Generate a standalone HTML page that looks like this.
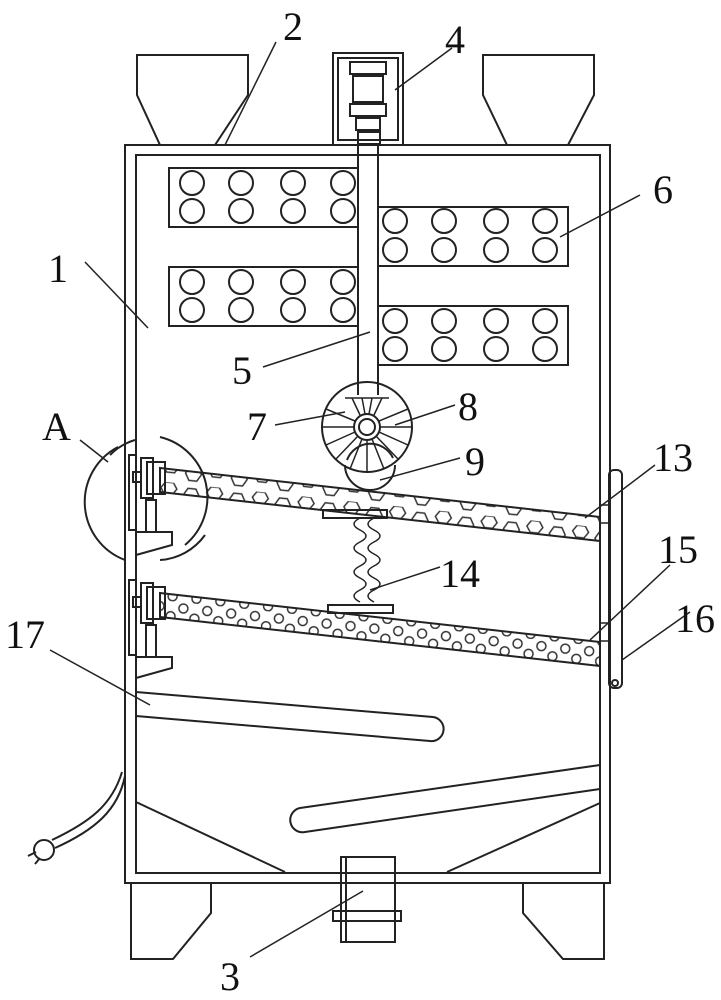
<!DOCTYPE html>
<html><head><meta charset="utf-8"><style>
html,body{margin:0;padding:0;background:#fff}
svg{display:block}
text{font-family:"Liberation Serif",serif;font-size:40px;fill:#111}
</style></head><body>
<svg width="721" height="1000" viewBox="0 0 721 1000" xmlns="http://www.w3.org/2000/svg">
<defs>
<pattern id="hex" width="46" height="22" patternUnits="userSpaceOnUse" patternTransform="rotate(6)">
<polygon points="8,4 16,4 20,11 16,18 8,18 4,11" fill="none" stroke="#333" stroke-width="1.5"/>
<polygon points="31,0 39,0 43,6 39,12 31,12 27,6" fill="none" stroke="#333" stroke-width="1.5"/>
</pattern>
<pattern id="hex2" width="24" height="20" patternUnits="userSpaceOnUse" patternTransform="rotate(6)">
<circle cx="6" cy="6" r="4.5" fill="none" stroke="#333" stroke-width="1.5"/>
<circle cx="18" cy="15" r="4.5" fill="none" stroke="#333" stroke-width="1.5"/>
</pattern>
</defs>
<g fill="none" stroke="#222" stroke-width="2">
<rect x="125" y="145" width="485" height="738"/>
<rect x="136" y="155" width="464" height="718"/>
<path d="M137,55 H248 V95 L215,145 H160 L137,95 Z"/>
<path d="M483,55 H594 V95 L568,145 H507 L483,95 Z"/>
<rect x="333" y="53" width="70" height="92"/>
<rect x="338" y="58" width="60" height="82"/>
<rect x="350" y="62" width="36" height="12"/>
<rect x="353" y="76" width="30" height="26"/>
<rect x="350" y="104" width="36" height="12"/>
<rect x="356" y="118" width="24" height="12"/>
<rect x="358" y="132" width="22" height="12"/>
<line x1="358" y1="145" x2="358" y2="395"/>
<line x1="378" y1="145" x2="378" y2="395"/>
<rect x="169" y="168" width="189" height="59"/>
<rect x="169" y="267" width="189" height="59"/>
<rect x="378" y="207" width="190" height="59"/>
<rect x="378" y="306" width="190" height="59"/>
<g>
<circle cx="192" cy="183" r="12"/><circle cx="241" cy="183" r="12"/><circle cx="293" cy="183" r="12"/><circle cx="343" cy="183" r="12"/>
<circle cx="192" cy="211" r="12"/><circle cx="241" cy="211" r="12"/><circle cx="293" cy="211" r="12"/><circle cx="343" cy="211" r="12"/>
<circle cx="192" cy="282" r="12"/><circle cx="241" cy="282" r="12"/><circle cx="293" cy="282" r="12"/><circle cx="343" cy="282" r="12"/>
<circle cx="192" cy="310" r="12"/><circle cx="241" cy="310" r="12"/><circle cx="293" cy="310" r="12"/><circle cx="343" cy="310" r="12"/>
<circle cx="395" cy="221" r="12"/><circle cx="444" cy="221" r="12"/><circle cx="496" cy="221" r="12"/><circle cx="545" cy="221" r="12"/>
<circle cx="395" cy="250" r="12"/><circle cx="444" cy="250" r="12"/><circle cx="496" cy="250" r="12"/><circle cx="545" cy="250" r="12"/>
<circle cx="395" cy="321" r="12"/><circle cx="444" cy="321" r="12"/><circle cx="496" cy="321" r="12"/><circle cx="545" cy="321" r="12"/>
<circle cx="395" cy="349" r="12"/><circle cx="444" cy="349" r="12"/><circle cx="496" cy="349" r="12"/><circle cx="545" cy="349" r="12"/>
</g>
<circle cx="367" cy="427" r="45"/>
<circle cx="367" cy="427" r="13"/><circle cx="367" cy="427" r="8"/>
<g stroke-width="1.5">
<line x1="380" y1="427" x2="412" y2="427"/><line x1="354" y1="427" x2="322" y2="427"/>
<line x1="367" y1="440" x2="367" y2="472"/>
<line x1="376" y1="436" x2="398" y2="459"/><line x1="358" y1="436" x2="336" y2="459"/>
<line x1="372" y1="439" x2="384" y2="469"/><line x1="362" y1="439" x2="350" y2="469"/>
<line x1="379" y1="432" x2="408" y2="445"/><line x1="355" y1="432" x2="326" y2="445"/>
<line x1="379" y1="421" x2="408" y2="409"/><line x1="355" y1="421" x2="326" y2="409"/>
<line x1="345" y1="398" x2="389" y2="398"/>
<line x1="362" y1="398" x2="365" y2="414"/><line x1="372" y1="398" x2="369" y2="414"/>
<line x1="352" y1="398" x2="360" y2="415"/><line x1="382" y1="398" x2="374" y2="415"/>
</g>
<path d="M345,465 A22,22 0 0 0 395,465" />
<path d="M347,460 A25,25 0 0 1 393,458"/>
<path d="M160,468 L600,517 L600,541 L160,492 Z" fill="url(#hex)"/>
<path d="M160,593 L600,642 L600,666 L160,617 Z" fill="url(#hex2)"/>
<rect x="323" y="510" width="64" height="8"/>
<rect x="328" y="605" width="65" height="8"/>
<path d="M360,518 q-12,6 0,12 q12,6 0,12 q-12,6 0,12 q12,6 0,12 q-12,6 0,12 q12,6 0,12 q-12,6 0,12 " stroke-width="1.5"/>
<path d="M374,518 q-12,6 0,12 q12,6 0,12 q-12,6 0,12 q12,6 0,12 q-12,6 0,12 q12,6 0,12 q-12,6 0,12 " stroke-width="1.5"/>
<rect x="129" y="455" width="7" height="75"/>
<rect x="141" y="458" width="12" height="40"/><rect x="147" y="462" width="18" height="32"/>
<rect x="133" y="472" width="8" height="10"/>
<rect x="146" y="500" width="10" height="32"/>
<path d="M136,532 L172,532 L172,545 L136,555"/>
<rect x="129" y="580" width="7" height="75"/>
<rect x="141" y="583" width="12" height="40"/><rect x="147" y="587" width="18" height="32"/>
<rect x="133" y="597" width="8" height="10"/>
<rect x="146" y="625" width="10" height="32"/>
<path d="M136,657 L172,657 L172,668 L136,678"/>
<path d="M118,447 A62,62 0 0 0 125,560"/>
<path d="M160,437 A62,62 0 0 1 185,545" />
<path d="M110,455 A58,58 0 0 1 135,440"/>
<path d="M160,560 A60,60 0 0 0 205,535"/>
<rect x="609" y="470" width="13" height="218" rx="5"/>
<circle cx="615" cy="683" r="3"/>
<rect x="600" y="505" width="9" height="18" stroke-width="1.5"/>
<rect x="600" y="623" width="9" height="18" stroke-width="1.5"/>
<path d="M136,692 L433,717 A12,12 0 0 1 430,741 L136,716"/>
<path d="M600,765 L300,808 A12,12 0 0 0 305,832 L600,789"/>
<line x1="136" y1="802" x2="285" y2="872"/>
<line x1="600" y1="803" x2="447" y2="872"/>
<rect x="341" y="857" width="54" height="85"/>
<line x1="346" y1="857" x2="346" y2="942"/>
<rect x="333" y="911" width="68" height="10"/>
<path d="M131,883 V959 H173 L211,913 V883"/>
<path d="M604,883 V959 H563 L523,913 V883"/>
<path d="M125,776 C118,810 95,830 55,848"/>
<path d="M122,772 C112,805 90,822 52,840"/>
<circle cx="44" cy="850" r="10"/>
<path d="M36,852 l-8,4 M40,858 l-5,6"/>
<g stroke-width="1.5">
<line x1="85" y1="262" x2="148" y2="328"/>
<line x1="276" y1="42" x2="225" y2="145"/>
<line x1="452" y1="48" x2="395" y2="90"/>
<line x1="263" y1="367" x2="370" y2="332"/>
<line x1="640" y1="195" x2="560" y2="237"/>
<line x1="275" y1="425" x2="345" y2="412"/>
<line x1="455" y1="405" x2="395" y2="425"/>
<line x1="460" y1="458" x2="380" y2="480"/>
<line x1="655" y1="465" x2="585" y2="518"/>
<line x1="440" y1="567" x2="370" y2="590"/>
<line x1="670" y1="565" x2="590" y2="640"/>
<line x1="690" y1="612" x2="622" y2="660"/>
<line x1="50" y1="650" x2="150" y2="705"/>
<line x1="80" y1="440" x2="108" y2="462"/>
<line x1="250" y1="957" x2="363" y2="891"/>
</g>
</g>
<text x="48" y="282">1</text>
<text x="283" y="40">2</text>
<text x="220" y="990">3</text>
<text x="445" y="53">4</text>
<text x="232" y="384">5</text>
<text x="653" y="203">6</text>
<text x="247" y="440">7</text>
<text x="458" y="420">8</text>
<text x="465" y="475">9</text>
<text x="653" y="471">13</text>
<text x="440" y="587">14</text>
<text x="658" y="563">15</text>
<text x="675" y="632">16</text>
<text x="5" y="648">17</text>
<text x="42" y="440">A</text>
</svg>
</body></html>
